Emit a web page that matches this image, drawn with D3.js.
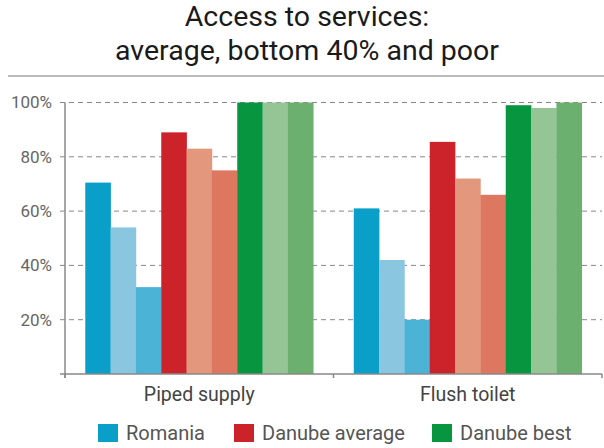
<!DOCTYPE html>
<html><head><meta charset="utf-8">
<script src="https://cdn.jsdelivr.net/npm/d3@7"></script>
<style>body{margin:0;background:#fff;}svg{display:block;font-family:Roboto,"Noto Sans",sans-serif;}</style>
</head><body><svg id="c" width="604" height="448"></svg>
<script>
const categories = ["Piped supply", "Flush toilet"];
const groups = ["Romania", "Danube average", "Danube best"];
const subSeries = ["average", "bottom 40%", "poor"];
const titleLines = ["Access to services:", "average, bottom 40% and poor"];
// values per category: [group][sub]
const pipedSupply = [[70.5, 54, 32], [89, 83, 75], [100, 100, 100]];
const flushToilet = [[61, 42, 20], [85.5, 72, 66], [99, 98, 100]];
const yTicks = [20, 40, 60, 80, 100];
const groupColors = [
  ["#0A9FC8", "#8AC6E0", "#4BB3D6"],
  ["#CC2229", "#E3977D", "#DE7760"],
  ["#07963F", "#95C595", "#6CB070"]
];
const legendColors = ["#0A9FC8", "#CC2229", "#07963F"];

const dataByCat = [pipedSupply, flushToilet];
const svg = d3.select("#c");

// title
svg.append("g").selectAll("text").data(titleLines).join("text")
  .attr("text-anchor", "middle").attr("font-size", 28.5).attr("fill", "#1a1a1a")
  .attr("x", 307).attr("y", (d, i) => i === 0 ? 26 : 60).text(d => d);
svg.append("line").attr("x1", 8).attr("x2", 604).attr("y1", 76).attr("y2", 76)
  .attr("stroke", "#bbb").attr("stroke-width", 2);

const pL = 65, pR = 602, pT = 102.5, pB = 374;
const x = d3.scaleBand().domain(categories).range([pL, pR]).paddingInner(0).paddingOuter(0);
const y = d3.scaleLinear().domain([0, 100]).range([pB, pT]);

const flat = [];
categories.forEach((c, ci) => {
  groups.forEach((g, gi) => {
    subSeries.forEach((s, si) => {
      flat.push({cat: c, key: g + "|" + s, v: dataByCat[ci][gi][si], color: groupColors[gi][si]});
    });
  });
});
const keys = [];
groups.forEach(g => subSeries.forEach(s => keys.push(g + "|" + s)));
const xInner = d3.scaleBand().domain(keys).range([0, x.bandwidth()]).paddingOuter(0.8).paddingInner(0);

// grid
svg.append("g").selectAll("line").data(yTicks).join("line")
  .attr("x1", pL - 5).attr("x2", pR).attr("y1", d => y(d)).attr("y2", d => y(d))
  .attr("stroke", "#888").attr("stroke-width", 1).attr("stroke-dasharray", "5,4");

// bars
svg.append("g").selectAll("rect").data(flat).join("rect")
  .attr("x", d => x(d.cat) + xInner(d.key))
  .attr("width", xInner.bandwidth() + 0.3)
  .attr("y", d => y(d.v)).attr("height", d => y(0) - y(d.v))
  .attr("fill", d => d.color);

// y axis
const yAxis = d3.axisLeft(y).tickValues(yTicks).tickSize(0).tickPadding(13).tickFormat(d => d + "%");
const ya = svg.append("g").attr("transform", `translate(${pL},0)`).call(yAxis);
ya.select(".domain").remove();
ya.selectAll("text").attr("font-size", 17).attr("fill", "#666").attr("font-family", "Roboto, sans-serif");
svg.append("line").attr("x1", pL).attr("x2", pL).attr("y1", pT).attr("y2", pB + 4)
  .attr("stroke", "#888").attr("stroke-width", 1.5);

// x axis
svg.append("line").attr("x1", pL - 5).attr("x2", pR).attr("y1", pB).attr("y2", pB)
  .attr("stroke", "#888").attr("stroke-width", 1.5);
const xa = svg.append("g").attr("transform", `translate(0,${pB})`)
  .call(d3.axisBottom(x).tickSize(0).tickPadding(13));
xa.select(".domain").remove();
xa.selectAll("text").attr("font-size", 19.5).attr("fill", "#444").attr("font-family", "Roboto, sans-serif");
svg.append("g").selectAll("line").data([pL, x(categories[1]), pR]).join("line")
  .attr("x1", d => d).attr("x2", d => d).attr("y1", pB).attr("y2", pB + 4)
  .attr("stroke", "#888").attr("stroke-width", 1.5);

// legend
const legendX = [98, 234, 432];
const lg = svg.append("g").selectAll("g").data(groups).join("g")
  .attr("transform", (d, i) => `translate(${legendX[i]},424)`);
lg.append("rect").attr("width", 20).attr("height", 18).attr("fill", (d, i) => legendColors[i]);
lg.append("text").attr("x", 28).attr("y", 16).attr("font-size", 20).attr("fill", "#555").text(d => d);
</script></body></html>
